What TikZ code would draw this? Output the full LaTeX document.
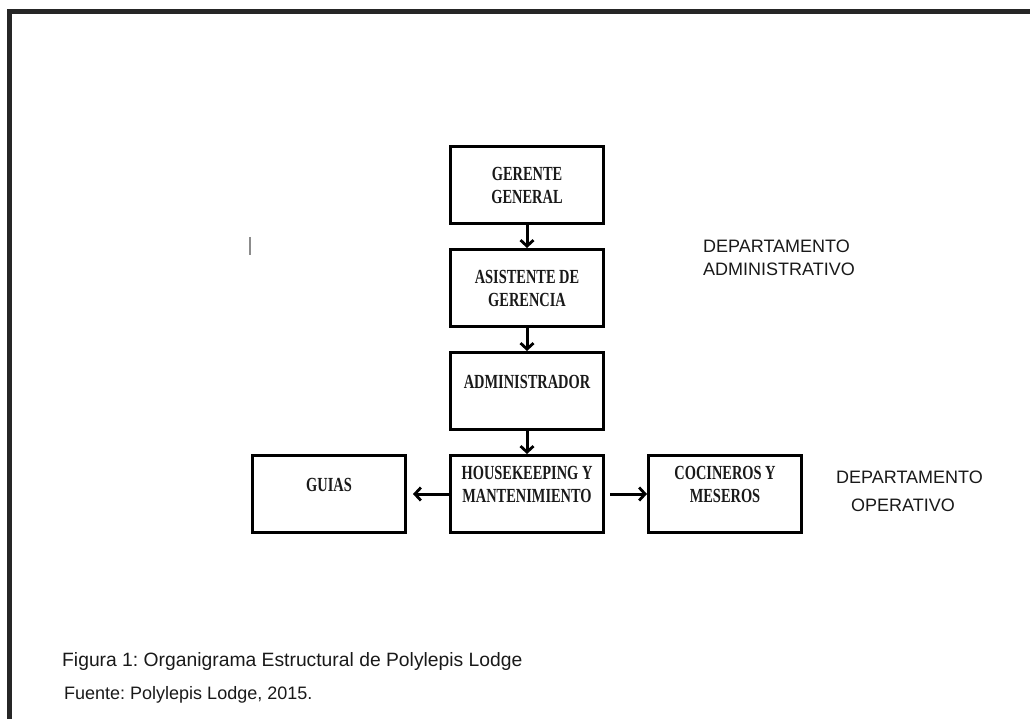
\documentclass[tikz,border=0pt]{standalone}
\usepackage{fontspec}
\setmainfont{Liberation Sans}
\newfontfamily\cajafont[FakeStretch=0.72]{Liberation Serif}
\usetikzlibrary{arrows.meta,positioning}

\begin{document}
\begin{tikzpicture}[x=1pt,y=-1pt,
    node distance=23pt and 42pt,
    caja/.style={draw, line width=3pt, minimum width=153pt, minimum height=77pt,
      inner sep=0pt, align=center, text=black!90,
      font=\cajafont\bfseries\fontsize{20}{23}\selectfont},
    flecha/.style={line width=3pt, -{Straight Barb[length=6pt,width=13pt,line width=2.8pt]}},
    etiqueta/.style={anchor=base west, inner sep=0pt, align=left, text=black!90,
      font=\fontsize{18}{23}\selectfont}
  ]
  \useasboundingbox (0,0) rectangle (1030,719);
  \draw[line width=5pt, black!85] (9,719) -- (9,12) -- (1030,12);
  \draw[line width=1.2pt, black!45] (250,237) -- (250,255);

  \node[caja] (gerente) at (527,185) {GERENTE\\GENERAL};
  \node[caja, below=of gerente] (asistente) {ASISTENTE DE\\GERENCIA};
  \node[caja, below=of asistente, text depth=18pt] (admin) {ADMINISTRADOR};
  \node[caja, below=of admin, text depth=20pt] (house) {HOUSEKEEPING Y\\MANTENIMIENTO};
  \node[caja, left=of house, text depth=18pt] (guias) {GUIAS};
  \node[caja, right=of house, text depth=20pt] (cocina) {COCINEROS Y\\MESEROS};

  \draw[flecha] (gerente) -- (asistente);
  \draw[flecha] (asistente) -- (admin);
  \draw[flecha] (admin) -- (house);
  \draw[flecha, shorten >=6pt] (house) -- (guias);
  \draw[flecha, shorten <=5pt] (house) -- (cocina);

  \node[etiqueta] (dadmin) at (703,276) {DEPARTAMENTO\\ADMINISTRATIVO};
  \node[etiqueta, font=\fontsize{18}{28}\selectfont] (doper) at (836,511)
    {DEPARTAMENTO\\\hspace*{15pt}OPERATIVO};

  \node[etiqueta, font=\fontsize{19.3}{23}\selectfont\frenchspacing] (figura) at (62,666)
    {Figura 1: Organigrama Estructural de Polylepis Lodge};
  \node[etiqueta, font=\fontsize{18}{23}\selectfont\frenchspacing] (fuente) at (64,699)
    {Fuente: Polylepis Lodge, 2015.};
\end{tikzpicture}
\end{document}
